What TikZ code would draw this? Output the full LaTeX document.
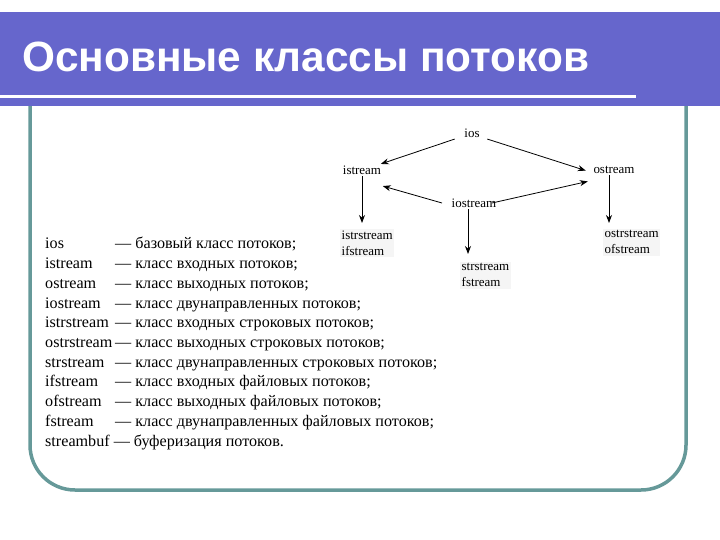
\documentclass[tikz,border=0pt]{standalone}
\usepackage{fontspec}
\setmainfont{Liberation Serif}
\newfontfamily\headfont{Liberation Sans}
\usetikzlibrary{arrows.meta,positioning,calc}
\definecolor{banner}{HTML}{6666CC}
\definecolor{frameteal}{HTML}{669999}
\tikzset{
  cls/.style={font=\fontsize{13}{16}\selectfont, inner sep=1.5bp,
              fill=black!4, align=left},
  flow/.style={-{Stealth[length=8bp, width=6bp]}, line width=0.8bp},
  row/.style={font=\fontsize{16.2}{19.7}\selectfont, anchor=base west,
              inner sep=0pt},
}
\newcommand{\cname}[1]{\makebox[70bp][l]{#1}}

\begin{document}
\begin{tikzpicture}[x=1bp, y=-1bp]
  \useasboundingbox (0,0) rectangle (720,540);
  % slide frame and title bar
  \draw[frameteal, line width=3.5bp, rounded corners=45bp]
    (30,100) -- (30,490) -- (686,490) -- (686,100);
  \fill[banner] (0,12) rectangle (720,106);
  \draw[white, line width=3bp] (0,97) -- (636,97);
  \node[anchor=base west, inner sep=0pt, text=white,
        font=\headfont\fontsize{42.5}{48}\bfseries] (title) at (22,72)
    {Основные классы потоков};
  % class hierarchy
  \node[cls, fill=none] (ios) at (472,133) {ios};
  \node[cls, fill=none] (istream) at (362,170) {istream};
  \node[cls, fill=none] (ostream) at (614,170) {ostream};
  \node[cls, fill=none] (iostream) at (474,203) {iostream};
  \node[cls, anchor=north west] (istr) at (340,229) {istrstream\\ifstream};
  \node[cls, anchor=north west] (str) at (460,262) {strstream\\fstream};
  \node[cls, anchor=north west] (ostr) at (603,229) {ostrstream\\ofstream};
  \coordinate (isd) at (istream.south);
  \coordinate (iod) at ($(iostream.south)+(-6,0)$);
  \coordinate (osd) at ($(ostream.south)+(-5,0)$);
  \draw[flow] ([xshift=-8bp]ios.south west) -- ([xshift=-2bp]istream.north east);
  \draw[flow] ([xshift=6bp]ios.south east) -- ([xshift=-6bp,yshift=-6bp]ostream.north west);
  \draw[flow] ([xshift=-8bp]iostream.west) -- ($(istream.south east)+(0,10)$);
  \draw[flow] ([xshift=-6bp]iostream.east) -- ($(ostream.south west)+(-4,6)$);
  \draw[flow, shorten >=6bp] (isd) -- (isd |- istr.north);
  \draw[flow, shorten >=8bp] (iod) -- (iod |- str.north);
  \draw[flow, shorten >=6bp] (osd) -- (osd |- ostr.north);
  % legend
  \foreach \nm/\ds [count=\i] in {
      ios/{базовый класс потоков;},
      istream/{класс входных потоков;},
      ostream/{класс выходных потоков;},
      iostream/{класс двунаправленных потоков;},
      istrstream/{класс входных строковых потоков;},
      ostrstream/{класс выходных строковых потоков;},
      strstream/{класс двунаправленных строковых потоков;},
      ifstream/{класс входных файловых потоков;},
      ofstream/{класс выходных файловых потоков;},
      fstream/{класс двунаправленных файловых потоков;}}
    \node[row] (row\i) at (45,{249+(\i-1)*19.7}) {\cname{\nm}— \ds};
  \node[row] (row11) at (45,{249+10*19.7}) {streambuf — буферизация потоков.};
\end{tikzpicture}
\end{document}
